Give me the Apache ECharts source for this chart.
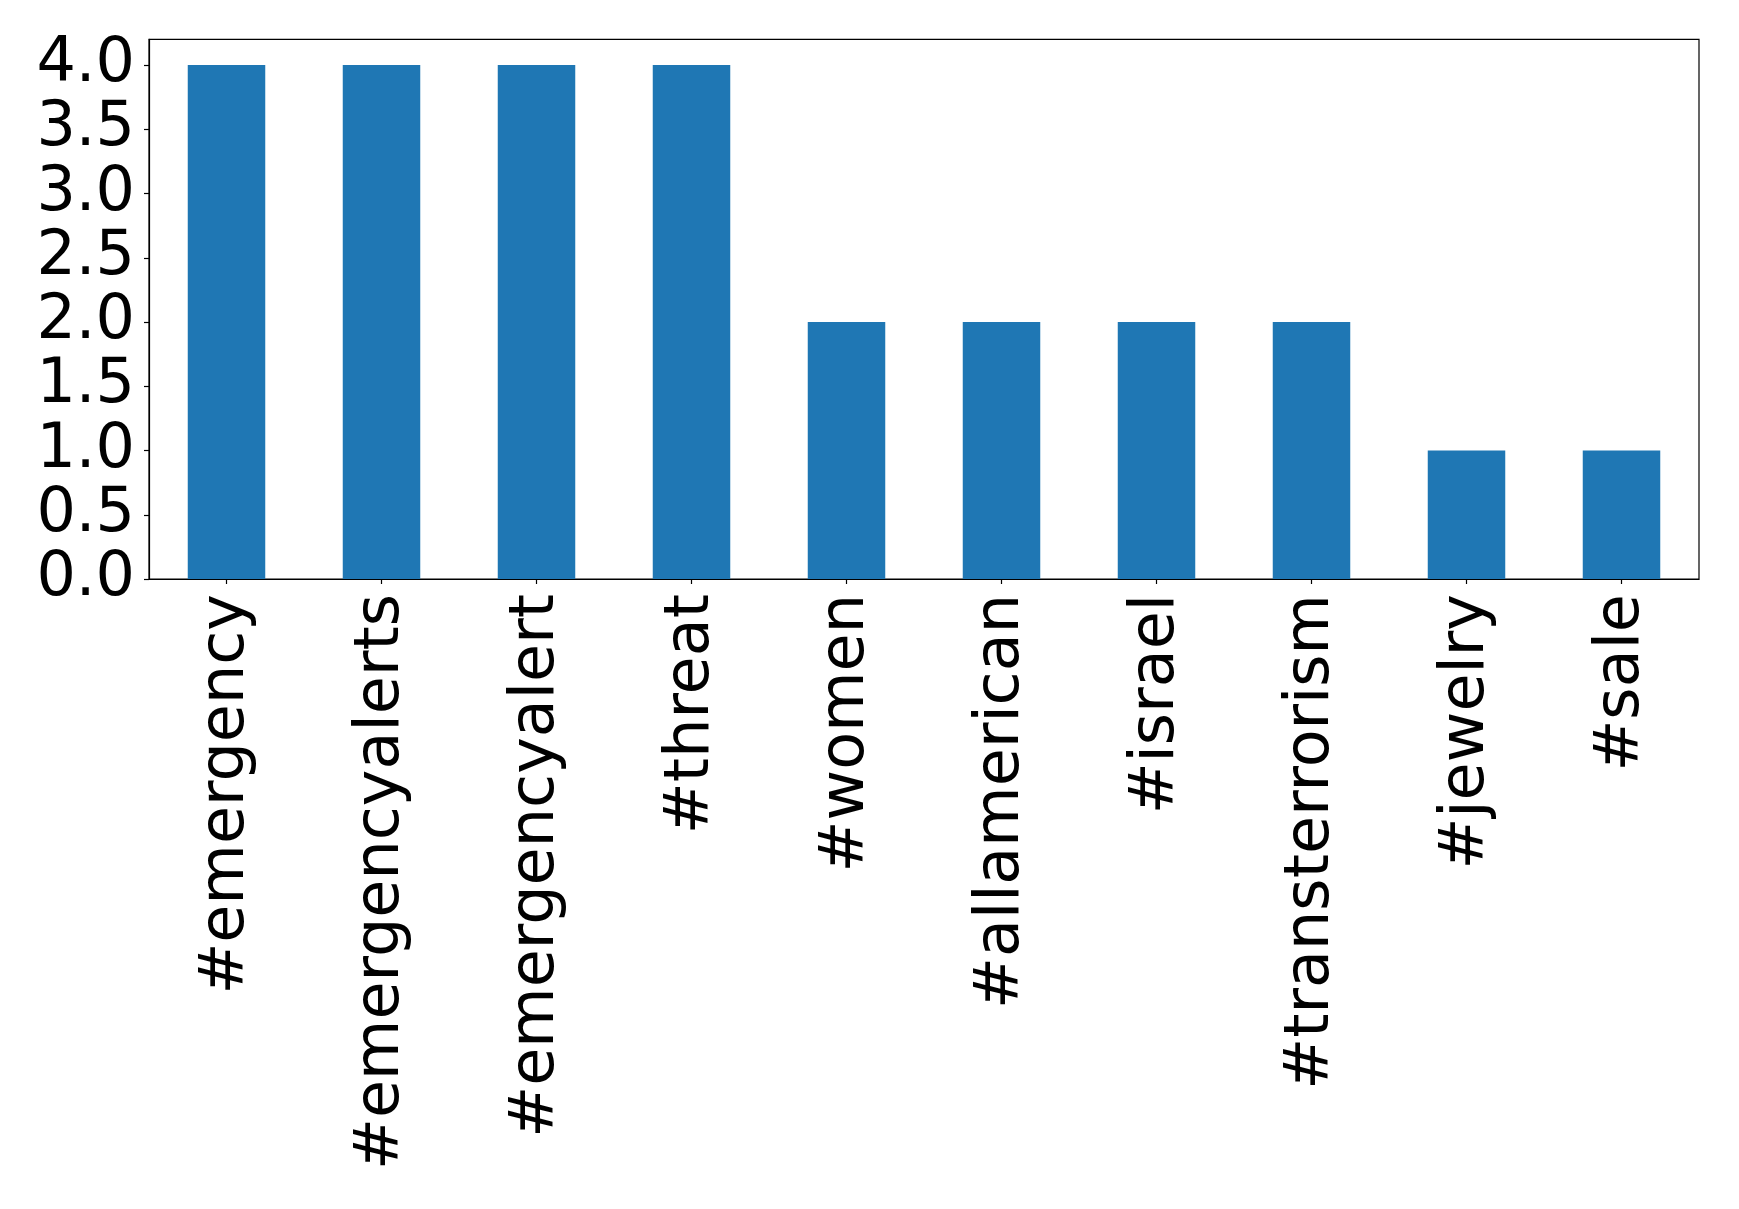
<!DOCTYPE html>
<html>
<head>
<meta charset="utf-8">
<script src="https://cdn.jsdelivr.net/npm/echarts@6/dist/echarts.min.js"></script>
<style>
html,body{margin:0;padding:0;background:#fff;}
#chart{width:1739px;height:1209px;}
</style>
</head>
<body>
<div id="chart"></div>
<script>
const categories = ['#emergency','#emergencyalerts','#emergencyalert','#threat','#women','#allamerican','#israel','#transterrorism','#jewelry','#sale'];
const counts = [4,4,4,4,2,2,2,2,1,1];
const yTicks = [0,0.5,1,1.5,2,2.5,3,3.5,4];

const chart = echarts.init(document.getElementById('chart'), null, {renderer:'canvas'});
chart.setOption({
  animation:false,
  backgroundColor:'#fff',
  grid:{left:149,right:40,top:39.3,height:539.7,show:true,borderColor:'#000',borderWidth:1.2,containLabel:false},
  xAxis:{
    type:'category',
    data:categories,
    boundaryGap:true,
    axisLine:{show:true,lineStyle:{color:'#000',width:1.2}},
    axisTick:{show:true,alignWithLabel:true,length:5,lineStyle:{color:'#000',width:1.2}},
    axisLabel:{rotate:90,margin:15,fontFamily:'DejaVu Sans',fontSize:62,color:'#000',interval:0},
    splitLine:{show:false}
  },
  yAxis:{
    type:'value',
    min:0,max:4.2,interval:0.5,
    axisLine:{show:true,lineStyle:{color:'#000',width:1.2}},
    axisTick:{show:true,length:5,lineStyle:{color:'#000',width:1.2}},
    axisLabel:{margin:14,fontFamily:'DejaVu Sans',fontSize:62,color:'#000',
      showMaxLabel:false,
      formatter:function(v){ return yTicks.indexOf(v)>=0 ? v.toFixed(1) : ''; }},
    splitLine:{show:false}
  },
  series:[{
    type:'bar',
    data:counts,
    barWidth:'50%',
    itemStyle:{color:'#1f77b4'}
  }]
});
</script>
</body>
</html>
